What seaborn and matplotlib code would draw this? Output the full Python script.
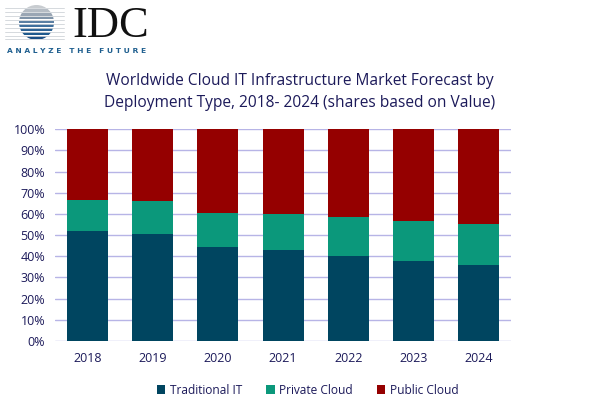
import matplotlib
matplotlib.use("Agg")
import matplotlib.pyplot as plt
import seaborn as sns
import pandas as pd
import numpy as np
from matplotlib.patches import Circle, Rectangle, Patch
from matplotlib.ticker import FuncFormatter

years = ["2018", "2019", "2020", "2021", "2022", "2023", "2024"]
traditional_it = [52.0, 50.4, 44.6, 43.0, 40.3, 38.0, 35.9]
private_cloud = [14.8, 15.9, 16.0, 17.0, 18.1, 18.7, 19.2]
public_cloud = [33.2, 33.7, 39.4, 40.0, 41.6, 43.3, 44.9]
series_names = ["Traditional IT", "Private Cloud", "Public Cloud"]
colors = ["#004560", "#0b987b", "#950000"]
title = "Worldwide Cloud IT Infrastructure Market Forecast by\nDeployment Type, 2018- 2024 (shares based on Value)"

sns.set_theme(style="white")
plt.rcParams["font.family"] = ["Open Sans", "DejaVu Sans"]

df = pd.DataFrame({"year": years, "trad": traditional_it,
                   "priv": private_cloud, "pub": public_cloud})
df["c1"] = df["trad"]
df["c2"] = df["trad"] + df["priv"]
df["c3"] = df["c2"] + df["pub"]

fig = plt.figure(figsize=(6, 4), dpi=100)
ax = fig.add_axes([0.0917, 0.1475, 0.7603, 0.5295])

text_col = "#1c1a5a"
for col, c in zip(["c3", "c2", "c1"], colors[::-1]):
    sns.barplot(data=df, x="year", y=col, color=c, width=0.63,
                saturation=1, ax=ax, zorder=3, edgecolor="none")

ax.set_ylim(0, 100)
ax.set_xlim(-0.5, len(years) - 0.5)
ax.set_yticks(np.arange(0, 101, 10))
ax.yaxis.set_major_formatter(FuncFormatter(lambda v, p: f"{int(v)}%"))
ax.grid(axis="y", color="#b7b4e6", linewidth=1, zorder=0)
ax.set_axisbelow(True)
for s in ax.spines.values():
    s.set_visible(False)
ax.set_xlabel("")
ax.set_ylabel("")
ax.tick_params(axis="x", length=0, labelsize=9, colors=text_col, pad=8)
ax.tick_params(axis="y", length=0, labelsize=9, colors=text_col, pad=7)

handles = [Patch(facecolor=c, edgecolor="none") for c in colors]
fig.legend(handles, series_names, loc="center", bbox_to_anchor=(0.513, 0.025),
           ncol=3, frameon=False, fontsize=8.6, handlelength=0.7, handleheight=0.7,
           handletextpad=0.4, columnspacing=2.0, labelcolor=text_col)

fig.text(0.5, 0.771, title, ha="center", va="center", fontsize=11.2,
         color=text_col, linespacing=1.5)

# IDC logo
lax = fig.add_axes([0, 0.86, 0.2667, 0.14])
lax.set_xlim(0, 160)
lax.set_ylim(56, 0)
lax.axis("off")
circle = Circle((36.5, 22.5), 17.5, transform=lax.transData)
stripe_cols = ["#c8ccd0", "#b5bcc4", "#9aa6b4", "#7f93a8", "#5b7fa2",
               "#3f6f9c", "#2c6294", "#1f5a8e", "#1a4f86"]
ys = np.linspace(5, 40, len(stripe_cols) + 1)
for i, sc in enumerate(stripe_cols):
    r = Rectangle((18, ys[i]), 37, (ys[i + 1] - ys[i]) * 0.72, facecolor=sc,
                  edgecolor="none")
    lax.add_patch(r)
    r.set_clip_path(circle)
for i in range(len(stripe_cols)):
    yl = ys[i] + (ys[i + 1] - ys[i]) * 0.86
    lax.plot([5, 64], [yl, yl], color="#cfd3d8", linewidth=0.6)
lax.text(72, 37, "IDC", fontsize=32, family="Liberation Serif", color="#111111",
         va="baseline", ha="left")
lax.text(7, 51, "A N A L Y Z E   T H E   F U T U R E", fontsize=5.4,
         color="#1f5f8f", va="center", ha="left", family="DejaVu Sans",
         weight="bold")

fig.savefig("out.png", dpi=100, facecolor="white")
